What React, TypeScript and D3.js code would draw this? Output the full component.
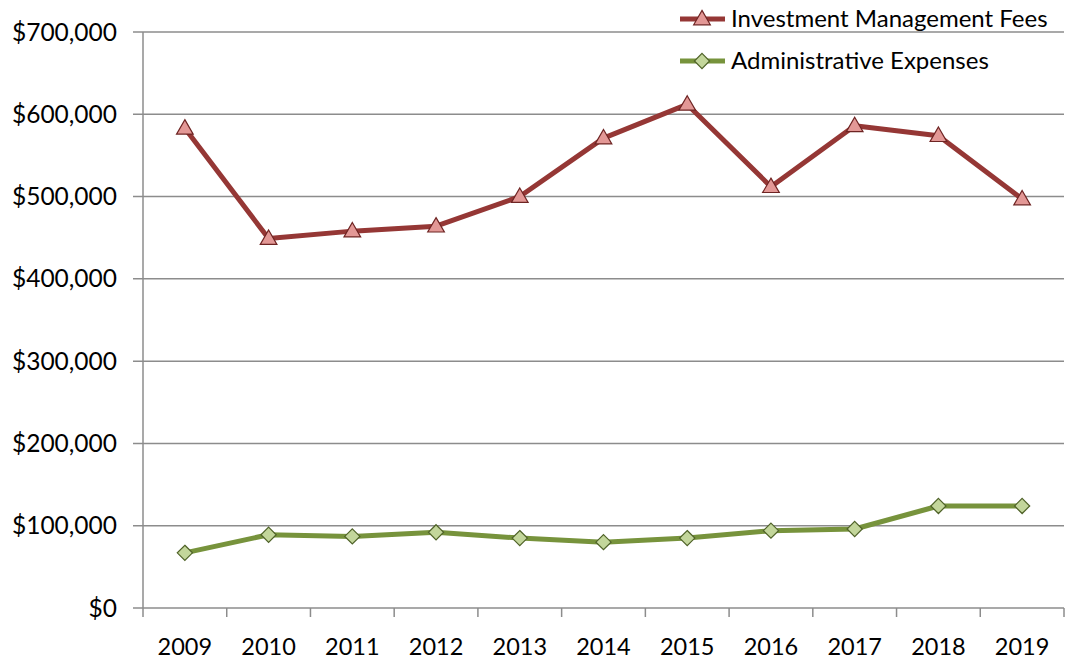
import React, { useRef, useEffect } from 'react';
import * as d3 from 'd3';

const years = ['2009', '2010', '2011', '2012', '2013', '2014', '2015', '2016', '2017', '2018', '2019'];
const investmentFees = [583000, 449000, 458000, 464000, 500000, 571000, 612000, 512000, 586000, 574000, 497000];
const adminExpenses = [67000, 89000, 87000, 92000, 85000, 80000, 85000, 94000, 96000, 124000, 124000];
const yTicks = [0, 100000, 200000, 300000, 400000, 500000, 600000, 700000];

const W = 1065;
const H = 664;
const FONT = 'Lato, "Open Sans", sans-serif';

// squared diamond (d3's symbolDiamond is too narrow)
const squareDiamond = {
  draw(ctx: any, size: number) {
    const r = Math.sqrt(size / 2);
    ctx.moveTo(0, -r);
    ctx.lineTo(r, 0);
    ctx.lineTo(0, r);
    ctx.lineTo(-r, 0);
    ctx.closePath();
  },
};

const App = () => {
  const svgRef = useRef<SVGSVGElement>(null);

  useEffect(() => {
    const svg = d3.select(svgRef.current);
    svg.selectAll('*').remove();

    const left = 143, right = 1064, top = 32, bottom = 608;

    const x = d3.scaleBand().domain(years).range([left, right]);
    const y = d3.scaleLinear().domain([0, 700000]).range([bottom, top]);
    const fmt = (v: number) => '$' + d3.format(',')(v);

    // gridlines
    svg.append('g')
      .selectAll('line')
      .data(yTicks)
      .join('line')
      .attr('x1', left - 10)
      .attr('x2', right)
      .attr('y1', d => y(d))
      .attr('y2', d => y(d))
      .attr('stroke', '#8c8c8c')
      .attr('stroke-width', 1.5);

    // y labels
    svg.append('g')
      .selectAll('text')
      .data(yTicks)
      .join('text')
      .attr('x', 117)
      .attr('y', d => y(d))
      .attr('dy', '0.35em')
      .attr('text-anchor', 'end')
      .attr('font-family', FONT)
      .attr('font-size', 24.5)
      .attr('fill', '#000')
      .text(fmt);

    // y axis line
    svg.append('line')
      .attr('x1', left).attr('x2', left)
      .attr('y1', top).attr('y2', bottom)
      .attr('stroke', '#8c8c8c').attr('stroke-width', 1.5);

    // x tick marks
    const edges = years.map(d => x(d) as number).concat([right]);
    svg.append('g')
      .selectAll('line')
      .data(edges)
      .join('line')
      .attr('x1', d => d).attr('x2', d => d)
      .attr('y1', bottom).attr('y2', bottom + 9)
      .attr('stroke', '#8c8c8c').attr('stroke-width', 1.5);

    // x labels
    svg.append('g')
      .selectAll('text')
      .data(years)
      .join('text')
      .attr('x', d => (x(d) as number) + x.bandwidth() / 2)
      .attr('y', 655)
      .attr('text-anchor', 'middle')
      .attr('font-family', FONT)
      .attr('font-size', 23.5)
      .attr('fill', '#000')
      .text(d => d);

    const cx = (_: number, i: number) => (x(years[i]) as number) + x.bandwidth() / 2;

    const series = [
      { name: 'Investment Management Fees', values: investmentFees, line: '#953735', fill: '#e39896', stroke: '#6e2423', shape: d3.symbolTriangle as any, size: 120, dy: 1 },
      { name: 'Administrative Expenses', values: adminExpenses, line: '#77933c', fill: '#c3d69b', stroke: '#4f6228', shape: squareDiamond, size: 115, dy: 0 },
    ];

    series.forEach(s => {
      const line = d3.line<number>().x(cx).y(d => y(d));
      svg.append('path')
        .datum(s.values)
        .attr('d', line)
        .attr('fill', 'none')
        .attr('stroke', s.line)
        .attr('stroke-width', 5)
        .attr('stroke-linejoin', 'round');

      const sym = d3.symbol().type(s.shape).size(s.size);
      svg.append('g')
        .selectAll('path')
        .data(s.values)
        .join('path')
        .attr('d', sym as any)
        .attr('transform', (d, i) => `translate(${cx(d, i)},${y(d) + s.dy})`)
        .attr('fill', s.fill)
        .attr('stroke', s.stroke)
        .attr('stroke-width', 1.2);
    });

    // legend
    const lg = svg.append('g');
    series.forEach((s, i) => {
      const ly = 19 + i * 42;
      lg.append('line')
        .attr('x1', 680).attr('x2', 725)
        .attr('y1', ly).attr('y2', ly)
        .attr('stroke', s.line).attr('stroke-width', 5);
      lg.append('path')
        .attr('d', d3.symbol().type(s.shape).size(s.size)() as string)
        .attr('transform', `translate(702,${ly + s.dy})`)
        .attr('fill', s.fill)
        .attr('stroke', s.stroke)
        .attr('stroke-width', 1.2);
      lg.append('text')
        .attr('x', 731)
        .attr('y', ly)
        .attr('dy', '0.35em')
        .attr('font-family', FONT)
        .attr('font-size', 24)
        .attr('fill', '#000')
        .text(s.name);
    });
  }, []);

  return (
    <svg ref={svgRef} width={W} height={H} style={{ position: 'absolute', left: 0, top: 0, background: '#fff' }} />
  );
};

export default App;
